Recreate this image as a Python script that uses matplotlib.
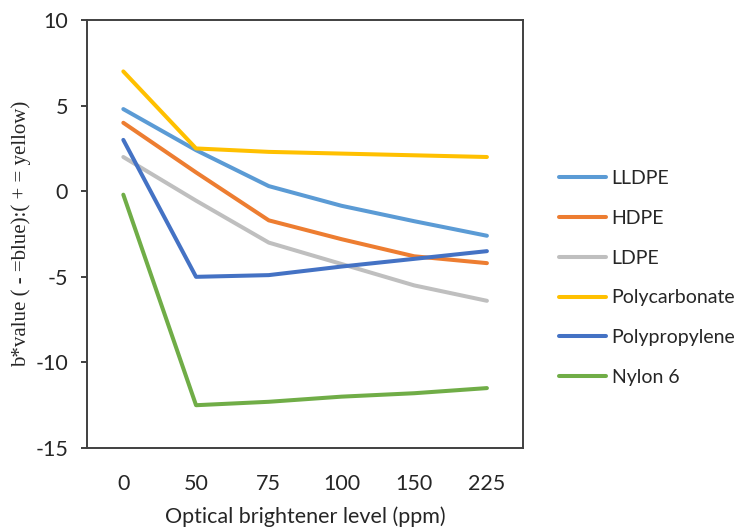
import matplotlib
matplotlib.use("Agg")
import matplotlib.pyplot as plt

# Optical brightener levels (ppm), plotted as categories
levels = ["0", "50", "75", "100", "150", "225"]

lldpe = [4.8, 2.4, 0.3, -0.85, -1.75, -2.6]
hdpe = [4.0, 1.1, -1.7, -2.8, -3.8, -4.2]
ldpe = [2.0, -0.55, -3.0, -4.25, -5.5, -6.4]
polycarbonate = [7.0, 2.5, 2.3, 2.2, 2.1, 2.0]
polypropylene = [3.0, -5.0, -4.9, -4.4, -3.95, -3.5]
nylon6 = [-0.2, -12.5, -12.3, -12.0, -11.8, -11.5]

series = [
    ("LLDPE", lldpe, "#5B9BD5"),
    ("HDPE", hdpe, "#ED7D31"),
    ("LDPE", ldpe, "#BFBFBF"),
    ("Polycarbonate", polycarbonate, "#FFC000"),
    ("Polypropylene", polypropylene, "#4472C4"),
    ("Nylon 6", nylon6, "#70AD47"),
]

plt.rcParams["font.family"] = ["Lato", "DejaVu Sans"]
plt.rcParams["axes.unicode_minus"] = False

fig = plt.figure(figsize=(7.37, 5.28), dpi=100)
ax = fig.add_axes([0.118, 0.1515, 0.592, 0.8105])

x = list(range(len(levels)))
for name, vals, col in series:
    ax.plot(x, vals, color=col, lw=2.9, label=name, solid_capstyle="round")

ax.set_xlim(-0.5, len(levels) - 0.5)
ax.set_ylim(-15, 10)
ax.set_yticks([-15, -10, -5, 0, 5, 10])
ax.set_xticks(x)
ax.set_xticklabels(levels)

for s in ax.spines.values():
    s.set_color("#404040")
    s.set_linewidth(1.4)

fs = 15.5
ax.tick_params(axis="x", length=0, pad=19, labelsize=fs, colors="#262626")
ax.tick_params(axis="y", length=4.5, width=1.4, color="#404040", pad=9,
               labelsize=fs, labelcolor="#262626")

ax.set_xlabel("Optical brightener level (ppm)", fontsize=fs, color="#262626", labelpad=9)
ax.set_ylabel("b*value ( - =blue):( + = yellow)", fontsize=15, color="#262626",
              family="Liberation Serif", labelpad=3)

ax.legend(loc="upper left", bbox_to_anchor=(1.042, 0.69), frameon=False,
          fontsize=14, handlelength=2.4, handletextpad=0.3, labelspacing=1.17,
          labelcolor="#262626")

fig.savefig("out.png", dpi=100)
